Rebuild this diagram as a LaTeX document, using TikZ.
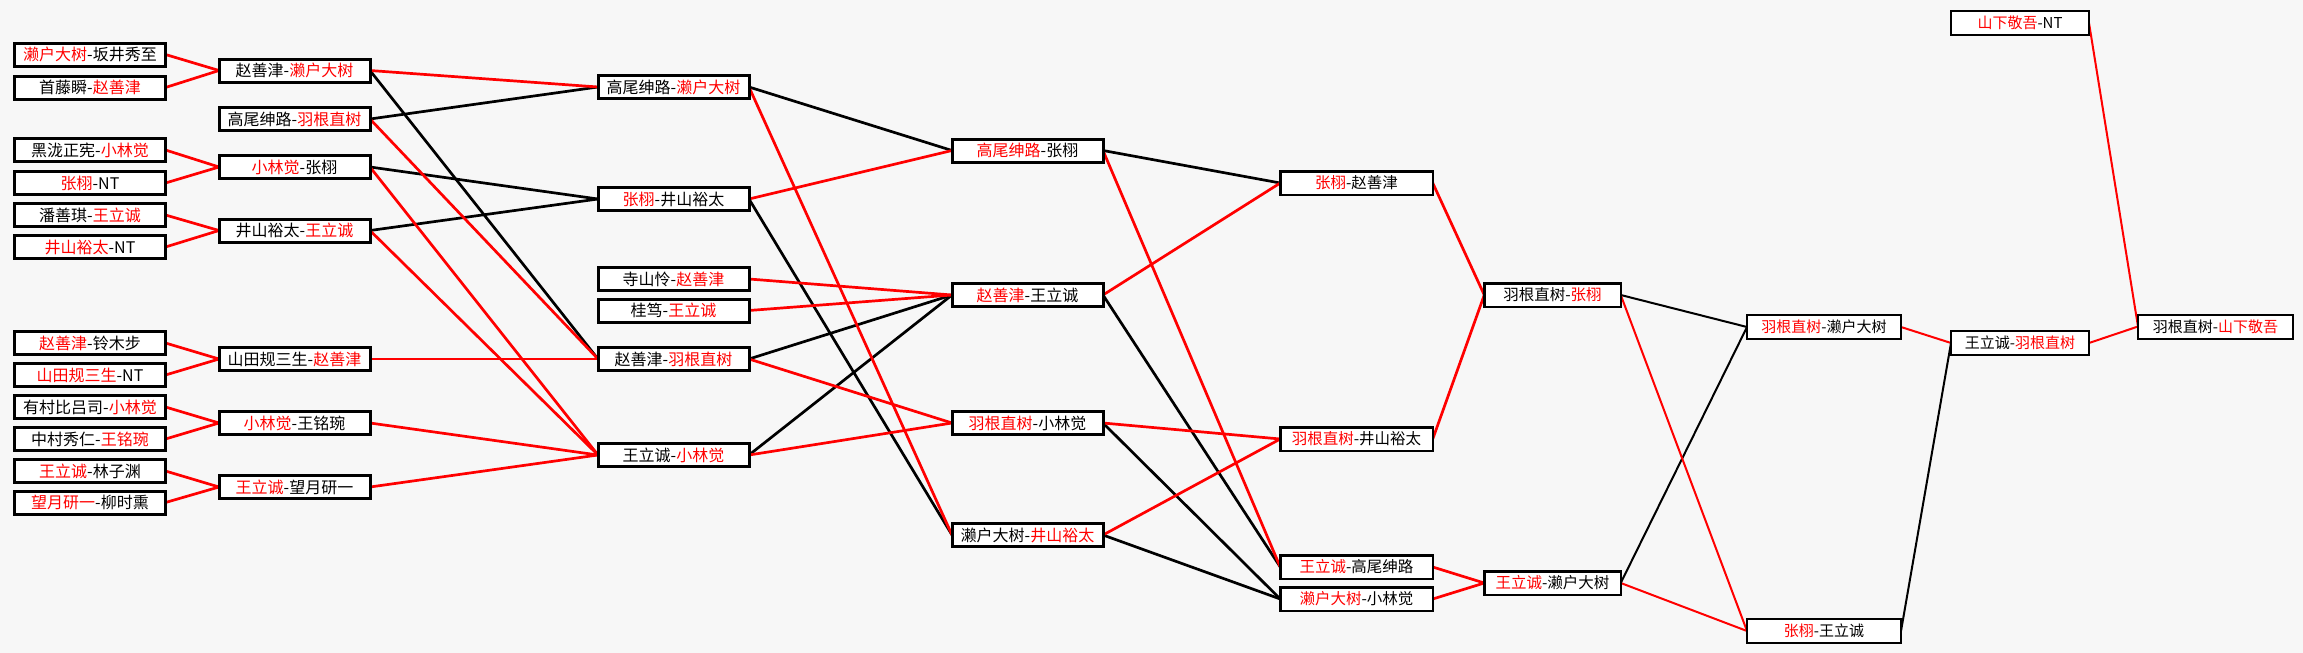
\documentclass[tikz,border=0pt]{standalone}
\usepackage{fontspec}
\newfontfamily\cjk{Noto Sans CJK SC}
\newcommand\rd[1]{\textcolor{red}{#1}}
\pgfdeclarelayer{bg}
\pgfsetlayers{bg,main}
\begin{document}
\begin{tikzpicture}[x=1pt,y=-1pt,
  box/.style={draw=black, fill=white, line width=3pt, minimum height=23pt, minimum width=151pt,
    inner sep=0pt, outer sep=0pt, font=\cjk\fontsize{16}{17}\selectfont},
  midbox/.style={box, line width=2.5pt, minimum height=23.5pt, minimum width=152.5pt, font=\cjk\fontsize{15.5}{16}\selectfont},
  rbox/.style={box, line width=2pt, minimum height=24pt, minimum width=154pt, font=\cjk\fontsize{15}{16}\selectfont},
  rl/.style={draw=red, line width=2.7pt},
  bl/.style={draw=black, line width=2.7pt},
  rlt/.style={draw=red, line width=2pt},
  blt/.style={draw=black, line width=2pt}]
\useasboundingbox (0,0) rectangle (2303,653);
% round 1
\node[box] (a1) at (90,54.5) {\rd{濑户大树}-坂井秀至};
\node[box] (a2) at (90,87.5) {首藤瞬-\rd{赵善津}};
\node[box] (a3) at (90,150) {黑泷正宪-\rd{小林觉}};
\node[box] (a4) at (90,183) {\rd{张栩}-NT};
\node[box] (a5) at (90,215) {潘善琪-\rd{王立诚}};
\node[box] (a6) at (90,247) {\rd{井山裕太}-NT};
\node[box] (a7) at (90,343) {\rd{赵善津}-铃木步};
\node[box] (a8) at (90,375) {\rd{山田规三生}-NT};
\node[box] (a9) at (90,407) {有村比吕司-\rd{小林觉}};
\node[box] (a10) at (90,439) {中村秀仁-\rd{王铭琬}};
\node[box] (a11) at (90,471) {\rd{王立诚}-林子渊};
\node[box] (a12) at (90,502.5) {\rd{望月研一}-柳时熏};
% round 2
\node[box] (r2a) at (294.5,70.5) {赵善津-\rd{濑户大树}};
\node[box] (r2b) at (294.5,119) {高尾绅路-\rd{羽根直树}};
\node[box] (r2c) at (294.5,167) {\rd{小林觉}-张栩};
\node[box] (r2d) at (294.5,230.5) {井山裕太-\rd{王立诚}};
\node[box] (r2e) at (294.5,359) {山田规三生-\rd{赵善津}};
\node[box] (r2f) at (294.5,423) {\rd{小林觉}-王铭琬};
\node[box] (r2g) at (294.5,487) {\rd{王立诚}-望月研一};
% round 3
\node[box] (r3a) at (673.5,87) {高尾绅路-\rd{濑户大树}};
\node[box] (r3b) at (673.5,199) {\rd{张栩}-井山裕太};
\node[box] (r3c) at (673.5,279) {寺山怜-\rd{赵善津}};
\node[box] (r3d) at (673.5,310.5) {桂笃-\rd{王立诚}};
\node[box] (r3e) at (673.5,359) {赵善津-\rd{羽根直树}};
\node[box] (r3f) at (673.5,455) {王立诚-\rd{小林觉}};
% round 4
\node[box] (r4a) at (1027.5,150.5) {\rd{高尾绅路}-张栩};
\node[box] (r4b) at (1027.5,295) {\rd{赵善津}-王立诚};
\node[box] (r4c) at (1027.5,423) {\rd{羽根直树}-小林觉};
\node[box] (r4d) at (1027.5,535) {濑户大树-\rd{井山裕太}};
% round 5
\node[midbox] (r5a) at (1356.5,183) {\rd{张栩}-赵善津};
\node[midbox] (r5b) at (1356.5,439) {\rd{羽根直树}-井山裕太};
\node[midbox] (r5c) at (1356.5,567) {\rd{王立诚}-高尾绅路};
\node[midbox] (r5d) at (1356.5,599) {\rd{濑户大树}-小林觉};
% round 6
\node[midbox, minimum width=136.5pt] (r6a) at (1552.5,295) {羽根直树-\rd{张栩}};
\node[midbox, minimum width=136.5pt] (r6b) at (1552.5,583) {\rd{王立诚}-濑户大树};
% round 7
\node[rbox] (r7a) at (1824,327) {\rd{羽根直树}-濑户大树};
\node[rbox] (r7b) at (1824,631) {\rd{张栩}-王立诚};
% round 8
\node[rbox, minimum width=138pt] (r8a) at (2020,343) {王立诚-\rd{羽根直树}};
\node[rbox, minimum width=138pt] (nt) at (2020,23) {\rd{山下敬吾}-NT};
% final
\node[rbox, minimum width=155pt] (fin) at (2215.5,326.5) {羽根直树-\rd{山下敬吾}};
\begin{pgfonlayer}{bg}
\fill[white!97!black] (0,0) rectangle (2303,653);
% R1 -> R2
\draw[rl] (a1.east) -- (r2a.west);
\draw[rl] (a2.east) -- (r2a.west);
\draw[rl] (a3.east) -- (r2c.west);
\draw[rl] (a4.east) -- (r2c.west);
\draw[rl] (a5.east) -- (r2d.west);
\draw[rl] (a6.east) -- (r2d.west);
\draw[rl] (a7.east) -- (r2e.west);
\draw[rl] (a8.east) -- (r2e.west);
\draw[rl] (a9.east) -- (r2f.west);
\draw[rl] (a10.east) -- (r2f.west);
\draw[rl] (a11.east) -- (r2g.west);
\draw[rl] (a12.east) -- (r2g.west);
% R2 -> R3
\draw[bl] (r2a.east) -- (r3e.west);
\draw[bl] (r2b.east) -- (r3a.west);
\draw[bl] (r2c.east) -- (r3b.west);
\draw[bl] (r2d.east) -- (r3b.west);
\draw[rl] (r2a.east) -- (r3a.west);
\draw[rl] (r2b.east) -- (r3e.west);
\draw[rl] (r2c.east) -- (r3f.west);
\draw[rl] (r2d.east) -- (r3f.west);
\draw[rl] (r2e.east) -- (r3e.west);
\draw[rl] (r2f.east) -- (r3f.west);
\draw[rl] (r2g.east) -- (r3f.west);
% R3 -> R4
\draw[bl] (r3a.east) -- (r4a.west);
\draw[bl] (r3b.east) -- (r4d.west);
\draw[bl] (r3e.east) -- (r4b.west);
\draw[bl] (r3f.east) -- (r4b.west);
\draw[rl] (r3a.east) -- (r4d.west);
\draw[rl] (r3b.east) -- (r4a.west);
\draw[rl] (r3c.east) -- (r4b.west);
\draw[rl] (r3d.east) -- (r4b.west);
\draw[rl] (r3e.east) -- (r4c.west);
\draw[rl] (r3f.east) -- (r4c.west);
% R4 -> R5
\draw[bl] (r4a.east) -- (r5a.west);
\draw[bl] (r4b.east) -- (r5c.west);
\draw[bl] (r4c.east) -- (r5d.west);
\draw[bl] (r4d.east) -- (r5d.west);
\draw[rl] (r4a.east) -- (r5c.west);
\draw[rl] (r4b.east) -- (r5a.west);
\draw[rl] (r4c.east) -- (r5b.west);
\draw[rl] (r4d.east) -- (r5b.west);
% R5 -> R6
\draw[rl] (r5a.east) -- (r6a.west);
\draw[rl] (r5b.east) -- (r6a.west);
\draw[rl] (r5c.east) -- (r6b.west);
\draw[rl] (r5d.east) -- (r6b.west);
% R6 -> R7
\draw[blt] (r6a.east) -- (r7a.west);
\draw[blt] (r6b.east) -- (r7a.west);
\draw[rlt] (r6a.east) -- (r7b.west);
\draw[rlt] (r6b.east) -- (r7b.west);
% R7 -> R8
\draw[rlt] (r7a.east) -- (r8a.west);
\draw[blt] (r7b.east) -- (r8a.west);
% R8 -> final
\draw[rlt] (r8a.east) -- (fin.west);
\draw[rlt] (nt.east) -- (fin.west);
\end{pgfonlayer}
\end{tikzpicture}
\end{document}
